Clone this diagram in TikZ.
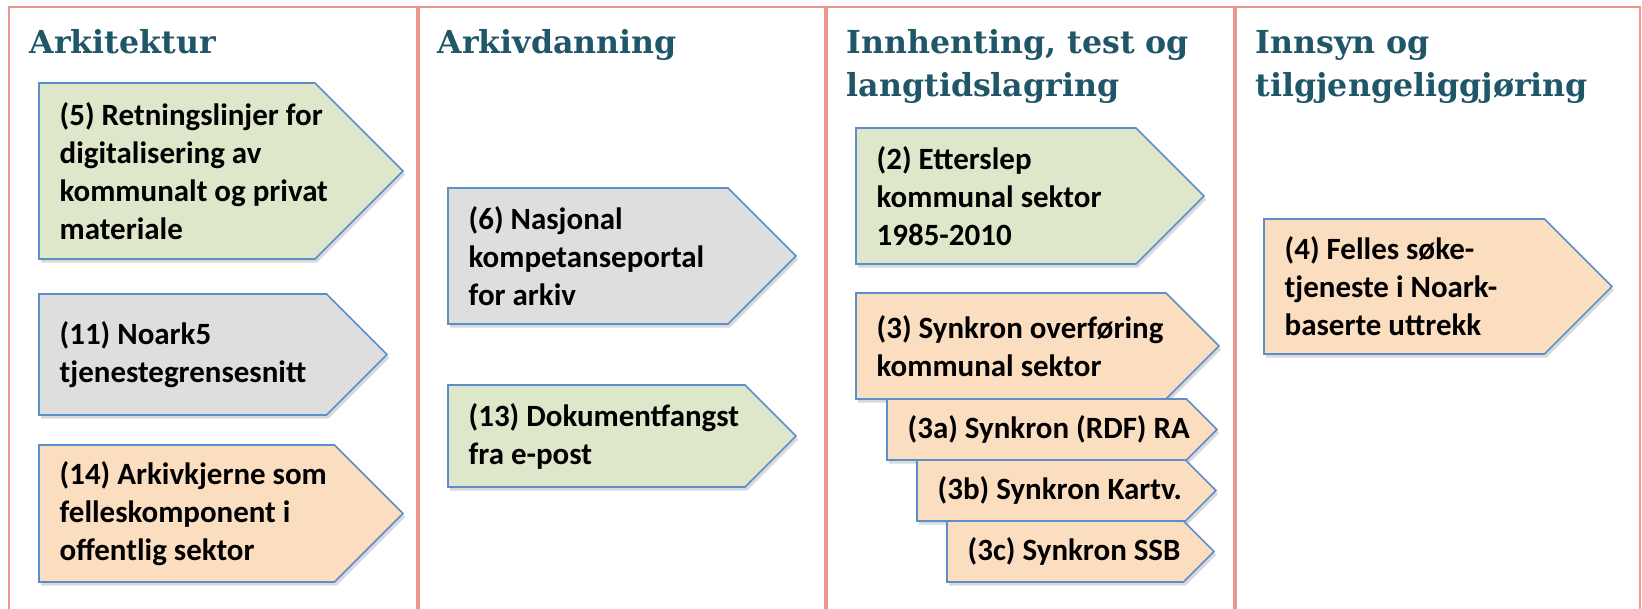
\documentclass[tikz,border=0pt]{standalone}
\usepackage{fontspec}
\setmainfont{Carlito}
\newfontfamily\titlefont{DejaVu Serif}
\usetikzlibrary{shadows}

\definecolor{panelred}{RGB}{236,152,142}
\definecolor{titleblue}{RGB}{31,87,104}
\definecolor{edgeblue}{RGB}{91,143,203}
\definecolor{grn}{RGB}{222,231,202}
\definecolor{gry}{RGB}{222,222,222}
\definecolor{pch}{RGB}{251,221,192}

% #1 name, #2 left, #3 top, #4 tip, #5 bottom, #6 fill, #7 text
\newcommand{\tiltak}[7]{%
  \filldraw[tiltakline, fill=#6] (#2,#3) -- ({#4-(#5-#3)/2},#3) -- (#4,{(#3+#5)/2})
    -- ({#4-(#5-#3)/2},#5) -- (#2,#5) -- cycle;
  \node[tiltaktext] (#1) at ({#2+20},{(#3+#5)/2}) {#7};}

\begin{document}
\begin{tikzpicture}[x=0.01cm,y=-0.01cm,
    panel/.style={draw=panelred,line width=0.6pt},
    paneltitle/.style={anchor=base west,inner sep=0pt,align=left,text=titleblue,
      font=\titlefont\bfseries\fontsize{9}{12.5}\selectfont},
    tiltakline/.style={draw=edgeblue,line width=0.45pt,
      drop shadow={shadow xshift=0.6pt,shadow yshift=-1pt,opacity=0.3}},
    tiltaktext/.style={anchor=west,inner sep=0pt,align=left,
      font=\bfseries\fontsize{8.8}{10.8}\selectfont}]
  \useasboundingbox (0,0) rectangle (1642,609);

  % the four phases
  \draw[panel] (9,609) -- (9,7) -- (417,7) -- (417,609);
  \draw[panel] (419,609) -- (419,7) -- (825,7) -- (825,609);
  \draw[panel] (827,609) -- (827,7) -- (1234,7) -- (1234,609);
  \draw[panel] (1236,609) -- (1236,7) -- (1640,7) -- (1640,609);

  % base of the last line
  \node[paneltitle] (arkitektur) at (29,53) {Arkitektur};
  \node[paneltitle] (arkivdanning) at (437,53) {Arkivdanning};
  \node[paneltitle] (innhenting) at (846,97) {Innhenting, test og\\langtidslagring};
  \node[paneltitle] (innsyn) at (1255,97) {Innsyn og\\tilgjengeliggjøring};

  % tiltak
  \tiltak{t5}{39}{83}{403}{259}{grn}{(5) Retningslinjer for\\digitalisering av\\kommunalt og privat\\materiale}
  \tiltak{t11}{39}{294}{387}{415}{gry}{(11) Noark5\\tjenestegrensesnitt}
  \tiltak{t14}{39}{445}{403}{582}{pch}{(14) Arkivkjerne som\\felleskomponent i\\offentlig sektor}

  \tiltak{t6}{448}{188}{796}{324}{gry}{(6) Nasjonal\\kompetanseportal\\for arkiv}
  \tiltak{t13}{448}{385}{796}{487}{grn}{(13) Dokumentfangst\\fra e-post}

  \tiltak{t2}{856}{128}{1204}{264}{grn}{(2) Etterslep\\kommunal sektor\\1985-2010}
  \tiltak{t3}{856}{293}{1219}{399}{pch}{(3) Synkron overføring\\kommunal sektor}
  \tiltak{t3a}{887}{399}{1217}{460}{pch}{(3a) Synkron (RDF) RA}
  \tiltak{t3b}{917}{460}{1216}{521}{pch}{(3b) Synkron Kartv.}
  \tiltak{t3c}{947}{521}{1214}{582}{pch}{(3c) Synkron SSB}

  \tiltak{t4}{1264}{219}{1612}{354}{pch}{(4) Felles søke-\\tjeneste i Noark-\\baserte uttrekk}
\end{tikzpicture}
\end{document}
